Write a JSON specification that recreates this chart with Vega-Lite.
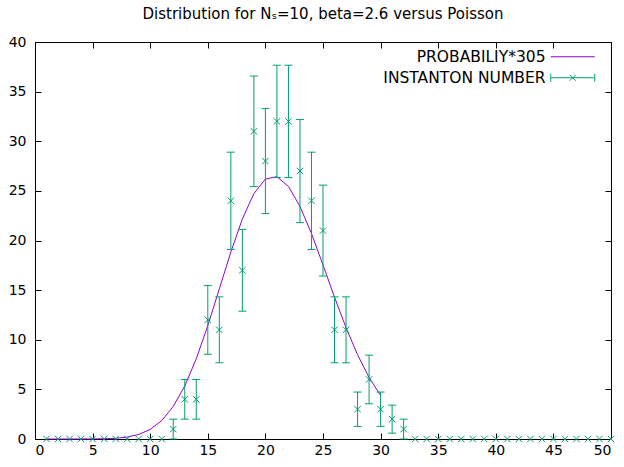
{
  "$schema": "https://vega.github.io/schema/vega-lite/v6.json",
  "width": 576,
  "height": 397,
  "autosize": {"type": "none"},
  "padding": {"left": 35, "top": 42, "right": 13, "bottom": 28},
  "title": {
    "text": "Distribution for Nₛ=10, beta=2.6 versus Poisson",
    "font": "DejaVu Sans",
    "fontSize": 15,
    "fontWeight": "normal",
    "color": "black",
    "anchor": "middle",
    "baseline": "bottom",
    "offset": -2
  },
  "datasets": {
    "counts": [
      {"x": 1, "n": 0}, {"x": 2, "n": 0}, {"x": 3, "n": 0}, {"x": 4, "n": 0}, {"x": 5, "n": 0},
      {"x": 6, "n": 0}, {"x": 7, "n": 0}, {"x": 8, "n": 0}, {"x": 9, "n": 0}, {"x": 10, "n": 0},
      {"x": 11, "n": 0},
      {"x": 12, "n": 1, "lo": 0, "hi": 2},
      {"x": 13, "n": 4, "lo": 2, "hi": 6},
      {"x": 14, "n": 4, "lo": 2, "hi": 6},
      {"x": 15, "n": 12, "lo": 8.54, "hi": 15.46},
      {"x": 16, "n": 11, "lo": 7.68, "hi": 14.32},
      {"x": 17, "n": 24, "lo": 19.1, "hi": 28.9},
      {"x": 18, "n": 17, "lo": 12.88, "hi": 21.12},
      {"x": 19, "n": 31, "lo": 25.43, "hi": 36.57},
      {"x": 20, "n": 28, "lo": 22.71, "hi": 33.29},
      {"x": 21, "n": 32, "lo": 26.34, "hi": 37.66},
      {"x": 22, "n": 32, "lo": 26.34, "hi": 37.66},
      {"x": 23, "n": 27, "lo": 21.8, "hi": 32.2},
      {"x": 24, "n": 24, "lo": 19.1, "hi": 28.9},
      {"x": 25, "n": 21, "lo": 16.42, "hi": 25.58},
      {"x": 26, "n": 11, "lo": 7.68, "hi": 14.32},
      {"x": 27, "n": 11, "lo": 7.68, "hi": 14.32},
      {"x": 28, "n": 3, "lo": 1.27, "hi": 4.73},
      {"x": 29, "n": 6, "lo": 3.55, "hi": 8.45},
      {"x": 30, "n": 3, "lo": 1.27, "hi": 4.73},
      {"x": 31, "n": 2, "lo": 0.59, "hi": 3.41},
      {"x": 32, "n": 1, "lo": 0, "hi": 2},
      {"x": 33, "n": 0}, {"x": 34, "n": 0}, {"x": 35, "n": 0}, {"x": 36, "n": 0}, {"x": 37, "n": 0},
      {"x": 38, "n": 0}, {"x": 39, "n": 0}, {"x": 40, "n": 0}, {"x": 41, "n": 0}, {"x": 42, "n": 0},
      {"x": 43, "n": 0}, {"x": 44, "n": 0}, {"x": 45, "n": 0}, {"x": 46, "n": 0}, {"x": 47, "n": 0},
      {"x": 48, "n": 0}, {"x": 49, "n": 0}, {"x": 50, "n": 0}
    ],
    "poisson": [
      {"k": 1, "p": 0}, {"k": 2, "p": 0}, {"k": 3, "p": 0.0003}, {"k": 4, "p": 0.0016},
      {"k": 5, "p": 0.0068}, {"k": 6, "p": 0.0241}, {"k": 7, "p": 0.0729}, {"k": 8, "p": 0.1932},
      {"k": 9, "p": 0.4547}, {"k": 10, "p": 0.9636}, {"k": 11, "p": 1.856}, {"k": 12, "p": 3.277},
      {"k": 13, "p": 5.34}, {"k": 14, "p": 8.082}, {"k": 15, "p": 11.42}, {"k": 16, "p": 15.12},
      {"k": 17, "p": 18.84}, {"k": 18, "p": 22.17}, {"k": 19, "p": 24.73}, {"k": 20, "p": 26.19},
      {"k": 21, "p": 26.43}, {"k": 22, "p": 25.45}, {"k": 23, "p": 23.44}, {"k": 24, "p": 20.7},
      {"k": 25, "p": 17.54}, {"k": 26, "p": 14.29}, {"k": 27, "p": 11.22}, {"k": 28, "p": 8.49},
      {"k": 29, "p": 6.2}, {"k": 30, "p": 4.38}
    ]
  },
  "layer": [
    {
      "data": {"name": "poisson"},
      "mark": {"type": "line", "strokeWidth": 1},
      "encoding": {
        "x": {
          "field": "k", "type": "quantitative",
          "scale": {"domain": [0, 50], "nice": false, "zero": false},
          "axis": {"orient": "bottom", "title": null, "values": [0, 5, 10, 15, 20, 25, 30, 35, 40, 45, 50], "labelPadding": 10}
        },
        "y": {
          "field": "p", "type": "quantitative",
          "scale": {"domain": [0, 40], "nice": false},
          "axis": {"orient": "left", "title": null, "values": [0, 5, 10, 15, 20, 25, 30, 35, 40], "labelPadding": 15}
        },
        "color": {
          "datum": "PROBABILIY*305", "type": "nominal",
          "scale": {"domain": ["PROBABILIY*305", "INSTANTON NUMBER"], "range": ["#9400d3", "#009e73"]},
          "legend": {
            "orient": "none",
            "legendX": 530,
            "legendY": 7,
            "title": null,
            "padding": 0,
            "labelFont": "DejaVu Sans",
            "labelFontSize": 15.5,
            "labelLimit": 400,
            "labelColor": "black",
            "labelAlign": "right",
            "labelOffset": -35,
            "symbolSize": 100,
            "rowPadding": 4,
            "encode": {
              "symbols": {
                "update": {
                  "shape": {"signal": "datum.value === 'PROBABILIY*305' ? 'M-4.4,0H4.4' : 'M-4.4,0H4.4M-4.4,-0.8V0.8M4.4,-0.8V0.8M-0.6,-0.6L0.6,0.6M-0.6,0.6L0.6,-0.6'"},
                  "fill": {"value": "transparent"},
                  "stroke": {"scale": "color", "field": "value"},
                  "strokeWidth": {"value": 1},
                  "opacity": {"value": 1}
                }
              }
            }
          }
        }
      }
    },
    {
      "data": {"name": "counts"},
      "transform": [{"filter": "datum.n > 0"}],
      "mark": {"type": "rule", "color": "#009e73", "strokeWidth": 1},
      "encoding": {
        "x": {"field": "x", "type": "quantitative", "axis": null},
        "y": {"field": "lo", "type": "quantitative", "axis": null},
        "y2": {"field": "hi"}
      }
    },
    {
      "data": {"name": "counts"},
      "transform": [{"filter": "datum.n > 0"}],
      "mark": {"type": "tick", "orient": "horizontal", "color": "#009e73", "size": 8, "thickness": 1, "opacity": 1},
      "encoding": {
        "x": {"field": "x", "type": "quantitative", "axis": null},
        "y": {"field": "lo", "type": "quantitative", "axis": null}
      }
    },
    {
      "data": {"name": "counts"},
      "transform": [{"filter": "datum.n > 0"}],
      "mark": {"type": "tick", "orient": "horizontal", "color": "#009e73", "size": 8, "thickness": 1, "opacity": 1},
      "encoding": {
        "x": {"field": "x", "type": "quantitative", "axis": null},
        "y": {"field": "hi", "type": "quantitative", "axis": null}
      }
    },
    {
      "data": {"name": "counts"},
      "mark": {"type": "point", "shape": "M-1,-1L1,1M-1,1L1,-1", "filled": false, "size": 42, "strokeWidth": 1, "opacity": 1},
      "encoding": {
        "x": {
          "field": "x", "type": "quantitative",
          "axis": {"orient": "top", "title": null, "labels": false, "values": [0, 5, 10, 15, 20, 25, 30, 35, 40, 45, 50]}
        },
        "y": {
          "field": "n", "type": "quantitative",
          "axis": {"orient": "right", "title": null, "labels": false, "values": [0, 5, 10, 15, 20, 25, 30, 35, 40]}
        },
        "color": {"datum": "INSTANTON NUMBER", "type": "nominal"}
      }
    }
  ],
  "resolve": {"axis": {"x": "independent", "y": "independent"}},
  "config": {
    "view": {"stroke": "black", "strokeWidth": 1},
    "axis": {
      "domain": false,
      "grid": false,
      "ticks": true,
      "tickSize": -6,
      "tickColor": "black",
      "tickWidth": 1,
      "labelFont": "DejaVu Sans",
      "labelFontSize": 14,
      "labelColor": "black"
    }
  }
}
